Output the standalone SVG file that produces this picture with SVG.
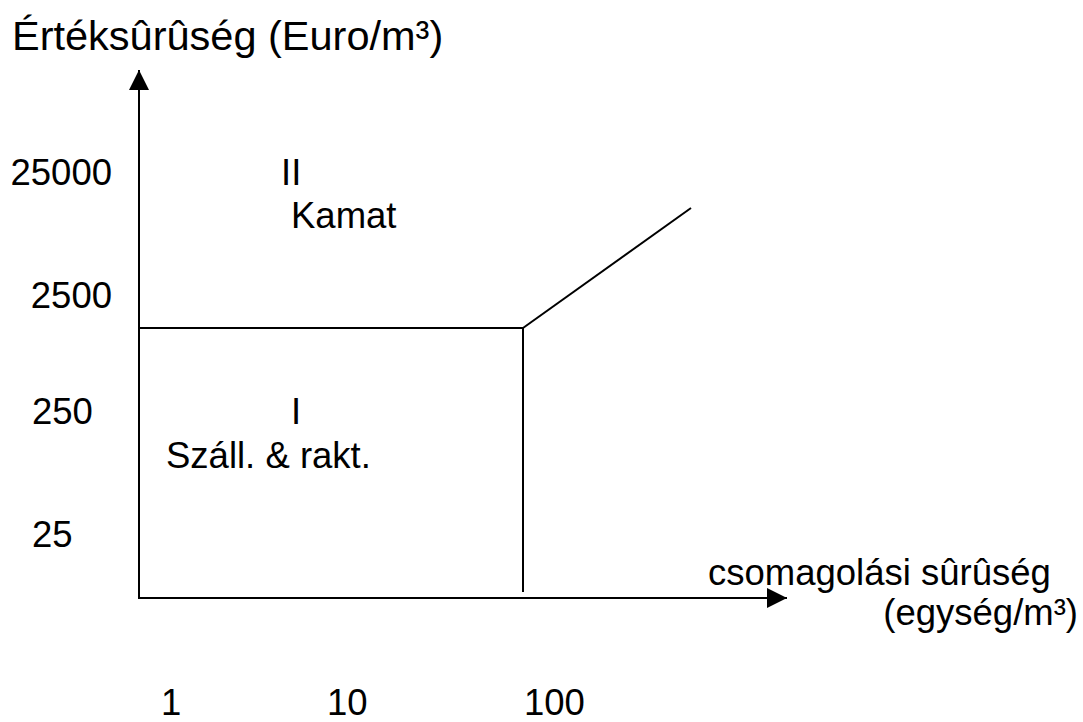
<svg xmlns="http://www.w3.org/2000/svg" width="1083" height="722" viewBox="0 0 1083 722">
<style>
text{font-family:"Liberation Sans",Arial,sans-serif;font-size:36.5px;fill:#000}
.ln{stroke:#000;stroke-width:2;fill:none}
</style>
<defs>
<marker id="ah" markerUnits="userSpaceOnUse" markerWidth="22" markerHeight="22" refX="20" refY="10" orient="auto">
<path d="M0,0 L20,10 L0,20 Z" fill="#000"/>
</marker>
</defs>
<rect width="1083" height="722" fill="#fff"/>
<g id="connectors">
<line class="ln" x1="139" y1="599" x2="139" y2="70" marker-end="url(#ah)"/>
<line class="ln" x1="138" y1="598" x2="787" y2="598" marker-end="url(#ah)"/>
<line class="ln" x1="139" y1="328" x2="523" y2="328"/>
<line class="ln" x1="523" y1="327" x2="523" y2="592"/>
<line class="ln" x1="523" y1="328" x2="691" y2="208"/>
</g>
<g id="title"><text x="12" y="50" style="font-size:41.5px">Értéksûrûség (Euro/m³)</text></g>
<g id="y-labels">
<text x="112" y="185" text-anchor="end">25000</text>
<text x="112" y="308" text-anchor="end">2500</text>
<text x="32" y="424">250</text>
<text x="32" y="547">25</text>
</g>
<g id="region-II">
<text x="281" y="185">II</text>
<text x="291" y="228">Kamat</text>
</g>
<g id="region-I">
<text x="291" y="424">I</text>
<text x="166" y="468">Száll. &amp; rakt.</text>
</g>
<g id="x-axis-label">
<text x="708" y="585">csomagolási sûrûség</text>
<text x="1078" y="625" text-anchor="end">(egység/m³)</text>
</g>
<g id="x-labels">
<text x="161" y="715">1</text>
<text x="327" y="715">10</text>
<text x="524" y="715">100</text>
</g>
</svg>
